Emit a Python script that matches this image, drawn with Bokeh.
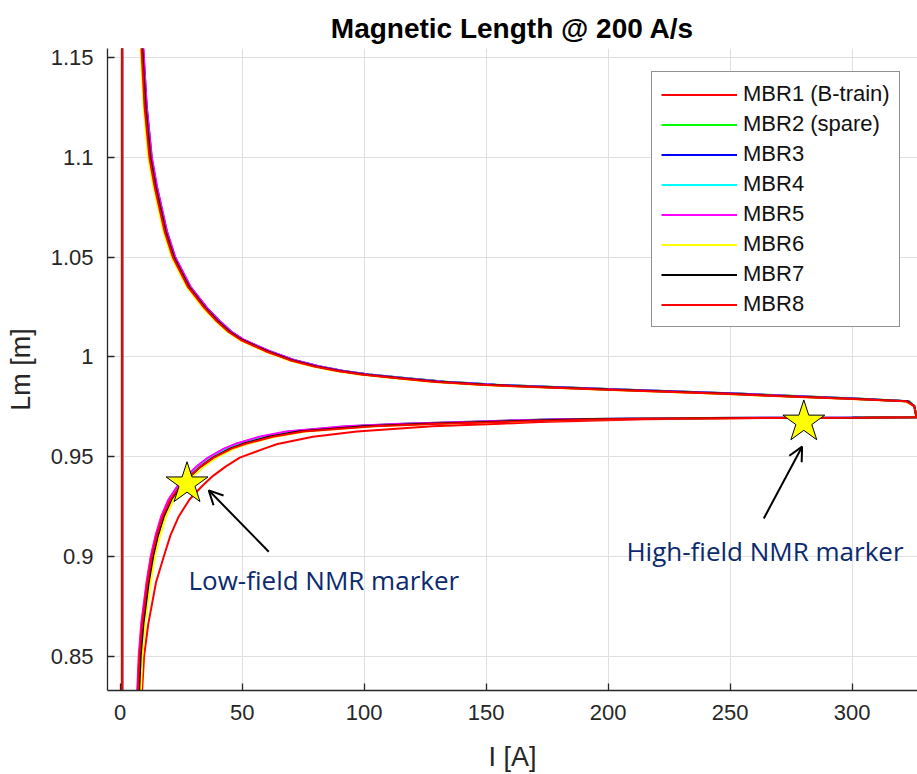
from bokeh.plotting import figure
from bokeh.models import Range1d, Legend, LegendItem, Arrow, OpenHead, Label, FixedTicker
from bokeh.embed import file_html
from bokeh.resources import INLINE

# ---------------- data ----------------
SERIES_NAMES = ["MBR1 (B-train)", "MBR2 (spare)", "MBR3", "MBR4", "MBR5", "MBR6", "MBR7", "MBR8"]
SERIES_COLORS = ["#FF0000", "#00FF00", "#0000FF", "#00FFFF", "#FF00FF", "#FFFF00", "#000000", "#FF0000"]

# start-of-cycle vertical segment (I ~ 0.8 A)
START_I = [0.8, 0.8]
START_LM = [1.30, 0.60]

# lower branch (ramp up): shared Lm values, current per magnet
LOW_LM = [0.780, 0.833, 0.850, 0.866, 0.887, 0.900, 0.9105, 0.920, 0.9285, 0.9355, 0.9405, 0.9450,
          0.9495, 0.9540, 0.9563, 0.9600, 0.9626, 0.9652, 0.9665, 0.9674, 0.9688, 0.9694, 0.9695, 0.9697]
mbr1_low_i = [7.5, 9.0, 9.8, 11.5, 14.7, 17.9, 20.6, 24.0, 28.4, 33.8, 38.2, 43.2, 49.0, 59.0, 64.5, 79.0, 97.0, 128.0, 156.0, 172.0, 215.0, 265.0, 300.0, 326.5]
mbr2_low_i = [6.0, 7.3, 7.9, 9.0, 11.1, 12.9, 14.8, 17.2, 20.2, 24.1, 28.0, 31.8, 36.5, 43.0, 47.5, 58.0, 69.0, 93.0, 116.0, 140.0, 178.0, 235.0, 292.0, 326.5]
mbr3_low_i = [5.9, 7.2, 7.8, 8.8, 11.0, 12.7, 14.7, 17.0, 20.0, 23.9, 27.8, 31.6, 36.4, 43.0, 47.5, 58.0, 70.0, 95.0, 119.0, 144.0, 182.0, 242.0, 296.0, 326.5]
mbr4_low_i = [6.1, 7.4, 8.0, 9.1, 11.2, 13.0, 15.0, 17.3, 20.4, 24.3, 28.2, 32.1, 37.0, 43.8, 48.5, 59.0, 71.0, 97.0, 121.0, 146.0, 185.0, 245.0, 297.0, 326.5]
mbr5_low_i = [5.7, 7.0, 7.6, 8.6, 10.8, 12.5, 14.5, 16.8, 19.8, 23.6, 27.4, 31.2, 36.0, 42.5, 47.0, 57.0, 68.0, 92.0, 115.0, 140.0, 180.0, 240.0, 295.0, 326.5]
mbr6_low_i = [7.2, 8.5, 9.1, 10.2, 12.5, 14.3, 16.4, 18.8, 22.0, 26.1, 30.2, 34.3, 39.5, 46.8, 52.0, 63.5, 76.0, 104.0, 130.0, 155.0, 195.0, 255.0, 303.0, 326.5]
mbr7_low_i = [6.5, 7.8, 8.4, 9.5, 11.7, 13.5, 15.5, 17.9, 21.0, 25.0, 29.0, 33.0, 38.0, 45.0, 50.0, 61.0, 73.0, 100.0, 125.0, 150.0, 190.0, 250.0, 300.0, 326.5]
mbr8_low_i = [6.0, 7.3, 7.9, 9.0, 11.2, 13.0, 15.0, 17.4, 20.6, 24.7, 28.8, 33.0, 38.3, 45.6, 51.0, 62.5, 75.0, 104.0, 131.0, 158.0, 200.0, 260.0, 305.0, 326.5]

# upper branch (ramp down): shared Lm values, current per magnet
UP_LM = [0.9697, 0.9703, 0.9753, 0.9778, 0.979, 0.9815, 0.9837, 0.9860, 0.9876, 0.9893, 0.9912, 0.9930, 0.9953,
         0.9985, 1.0030, 1.0085, 1.0125, 1.018, 1.0245, 1.0353, 1.05, 1.063, 1.0855, 1.10, 1.1253, 1.1553, 1.20]
mbr1_up_i = [326.5, 326.3, 325.5, 322.5, 299, 248, 198, 149, 129, 114.2, 99.5, 89.5, 79.6, 69.6, 59.7, 49.7, 44.8, 39.8, 34.8, 27.9, 21.8, 18.4, 14.3, 12.2, 10.2, 8.9, 7.9]
mbr2_up_i = [326.5, 326.3, 325.5, 323.5, 304, 256, 206, 155, 134, 118, 102, 91.5, 81.2, 70.9, 60.7, 50.4, 45.3, 40.3, 35.2, 28.3, 22.2, 18.8, 14.7, 12.6, 10.6, 9.2, 8.2]
mbr3_up_i = [326.5, 326.3, 325.5, 323.0, 303, 255, 205, 154, 133, 117.5, 102, 91.6, 81.4, 71.2, 61.0, 50.8, 45.7, 40.7, 35.6, 28.7, 22.5, 19.1, 15.0, 12.9, 10.9, 9.4, 8.4]
mbr4_up_i = [326.5, 326.3, 325.5, 322.5, 301, 252, 202, 152, 131.5, 116.2, 101, 90.8, 80.6, 70.5, 60.4, 50.2, 45.1, 40.1, 35.1, 28.2, 22.1, 18.7, 14.6, 12.5, 10.5, 9.1, 8.1]
mbr5_up_i = [326.5, 326.3, 325.5, 323.0, 302, 254, 204, 153, 132, 116.8, 101.5, 91.4, 81.3, 71.2, 61.0, 50.9, 45.8, 40.8, 35.7, 28.8, 22.6, 19.2, 15.1, 13.0, 10.9, 9.5, 8.5]
mbr6_up_i = [326.5, 326.3, 325.5, 321.5, 297, 245, 195, 146, 127, 112.5, 98, 88.2, 78.4, 68.6, 58.8, 48.9, 44.0, 39.0, 34.0, 27.2, 21.1, 17.7, 13.6, 11.5, 9.6, 8.3, 7.3]
mbr7_up_i = [326.5, 326.3, 325.5, 322.5, 300, 250, 200, 150, 130, 115, 100, 90, 80, 70, 60, 50, 45, 40, 35, 28.1, 22, 18.6, 14.5, 12.4, 10.4, 9.0, 8.0]
mbr8_up_i = [326.5, 326.3, 325.5, 322.0, 298, 247, 197, 148, 128.5, 113.8, 99, 89.1, 79.2, 69.3, 59.4, 49.5, 44.5, 39.5, 34.6, 27.7, 21.6, 18.2, 14.1, 12.0, 10.0, 8.7, 7.7]

LOW_I = [mbr1_low_i, mbr2_low_i, mbr3_low_i, mbr4_low_i, mbr5_low_i, mbr6_low_i, mbr7_low_i, mbr8_low_i]
UP_I = [mbr1_up_i, mbr2_up_i, mbr3_up_i, mbr4_up_i, mbr5_up_i, mbr6_up_i, mbr7_up_i, mbr8_up_i]

# NMR marker positions
STAR_I = [27.4, 280.2]
STAR_LM = [0.9364, 0.9674]

X_TICKS = [0, 50, 100, 150, 200, 250, 300]
Y_TICKS = [0.85, 0.9, 0.95, 1.0, 1.05, 1.1, 1.15]
Y_TICK_LABELS = ["0.85", "0.9", "0.95", "1", "1.05", "1.1", "1.15"]

AXIS_COLOR = "#262626"
FONT = "Liberation Sans"

# ---------------- figure ----------------
p = figure(width=917, height=774, output_backend="svg", toolbar_location=None,
           x_range=Range1d(-5.2, 326.8), y_range=Range1d(0.8327, 1.1547),
           min_border_left=107, min_border_right=0, min_border_top=48, min_border_bottom=82)

p.title.text = "Magnetic Length @ 200 A/s"
p.title.align = "center"
p.title.text_font = FONT
p.title.text_font_size = "28px"
p.title.text_font_style = "bold"
p.title.text_color = "#000000"

p.outline_line_color = None
p.background_fill_color = "white"
p.border_fill_color = "white"

for ax in (p.xaxis[0], p.yaxis[0]):
    ax.axis_line_color = AXIS_COLOR
    ax.axis_line_width = 1.3
    ax.major_tick_line_color = AXIS_COLOR
    ax.major_tick_line_width = 1.3
    ax.major_tick_in = 7
    ax.major_tick_out = 0
    ax.minor_tick_line_color = None
    ax.major_label_text_font = FONT
    ax.major_label_text_font_size = "22px"
    ax.major_label_text_color = AXIS_COLOR
    ax.axis_label_text_font = FONT
    ax.axis_label_text_font_size = "27px"
    ax.axis_label_text_font_style = "normal"
    ax.axis_label_text_color = AXIS_COLOR

p.xaxis.ticker = FixedTicker(ticks=X_TICKS)
p.yaxis.ticker = FixedTicker(ticks=Y_TICKS)
p.yaxis.major_label_overrides = {t: s for t, s in zip(Y_TICKS, Y_TICK_LABELS)}
p.xaxis.axis_label = "I [A]"
p.yaxis.axis_label = "Lm [m]"
p.xaxis.major_label_standoff = 14
p.yaxis.major_label_standoff = 14
p.xaxis.axis_label_standoff = 19
p.yaxis.axis_label_standoff = 12

p.xgrid.grid_line_color = "#DFDFDF"
p.ygrid.grid_line_color = "#DFDFDF"
p.xgrid.grid_line_width = 1
p.ygrid.grid_line_width = 1

items = []
for name, color, li, ui in zip(SERIES_NAMES, SERIES_COLORS, LOW_I, UP_I):
    xs = START_I + li + ui
    ys = START_LM + LOW_LM + UP_LM
    r = p.line(xs, ys, line_color=color, line_width=2)
    items.append(LegendItem(label=name, renderers=[r]))

legend = Legend(items=items, location=(544, 363))
legend.label_text_font = FONT
legend.label_text_font_size = "22px"
legend.label_text_color = "#111111"
legend.glyph_width = 76
legend.glyph_height = 25
legend.label_height = 25
legend.label_standoff = 6
legend.spacing = 4
legend.padding = 9
legend.margin = 0
legend.border_line_color = AXIS_COLOR
legend.border_line_width = 1.2
legend.background_fill_color = "white"
legend.background_fill_alpha = 1.0
p.add_layout(legend, "center")

# arrows and labels
p.add_layout(Arrow(end=OpenHead(size=14, line_width=2, line_color="black"),
                   x_start=60.9, y_start=0.9023, x_end=36.3, y_end=0.9331,
                   line_width=2, line_color="black"))
p.add_layout(Arrow(end=OpenHead(size=14, line_width=2, line_color="black"),
                   x_start=263.8, y_start=0.919, x_end=279.5, y_end=0.955,
                   line_width=2, line_color="black"))

p.scatter(STAR_I, STAR_LM, marker="star", size=44, fill_color="#FFFF00",
          line_color="black", line_width=1)

NAVY = "#0B2A6E"
p.add_layout(Label(x=28.0, y=0.8881, text="Low-field NMR marker", text_font="Open Sans",
                   text_font_size="26px", text_color=NAVY, text_baseline="middle"))
p.add_layout(Label(x=207.5, y=0.9029, text="High-field NMR marker", text_font="Open Sans",
                   text_font_size="26px", text_color=NAVY, text_baseline="middle"))

open("out.html", "w").write(file_html(p, INLINE))
